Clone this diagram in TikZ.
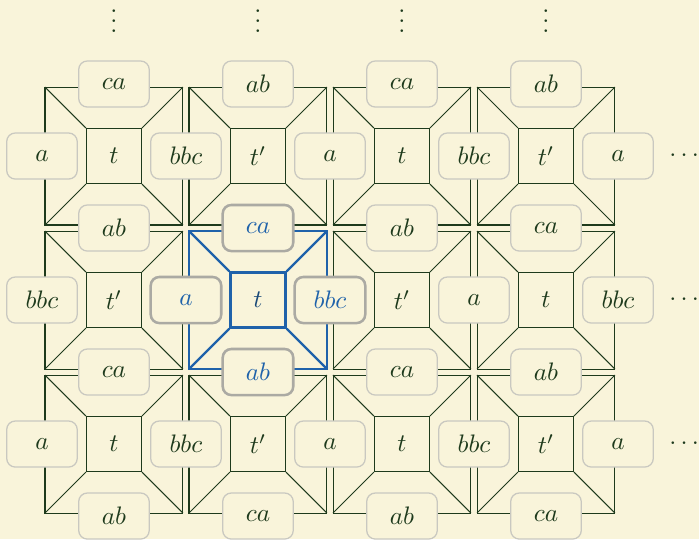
\documentclass[tikz,border=0pt]{standalone}
\usetikzlibrary{calc}
\definecolor{mCream}{HTML}{F9F4DA}
\definecolor{mGreen}{HTML}{1E3A1C}
\definecolor{mGray}{HTML}{C9C8C0}
\definecolor{mBlue}{HTML}{1F62AA}
\definecolor{mNavy}{HTML}{1B4A78}
\newcommand\stackdots{\vbox{\baselineskip4pt\lineskiplimit0pt\hbox{.}\hbox{.}\hbox{.}}}

\begin{document}
\begin{tikzpicture}[
  color=mGreen,
  core/.style={draw, minimum size=0.764cm, inner sep=0pt},
  hot/.style={draw=mBlue, line width=0.9pt, text=mNavy},
  tag/.style={draw=mGray, fill=mCream, rounded corners=0.12cm, line width=0.5pt,
              minimum width=0.98cm, minimum height=0.64cm, inner sep=1pt},
  pick/.style={tag, draw=mGray!85!black, line width=1pt, text=mBlue},
]
  \path[use as bounding box, fill=mCream] (-1.583,2.167) rectangle (8.125,-5.319);

  \foreach \i in {0,...,3}
    \foreach \j in {0,...,2} {
      \pgfmathtruncatemacro\pp{mod(\i+\j,2)}
      \ifnum\i\j=11 \def\look{hot}\else\def\look{}\fi
      \node[core,\look] (c\i\j) at (2*\i,-2*\j) {$\ifnum\pp=0 t\else t'\fi$};
      \coordinate (nw\i\j) at ($(c\i\j)+(-0.958,0.958)$);
      \coordinate (ne\i\j) at ($(c\i\j)+(0.958,0.958)$);
      \coordinate (se\i\j) at ($(c\i\j)+(0.958,-0.958)$);
      \coordinate (sw\i\j) at ($(c\i\j)+(-0.958,-0.958)$);
      \draw[\look] (nw\i\j) -- (ne\i\j) -- (se\i\j) -- (sw\i\j) -- cycle;
      \draw[\look] (nw\i\j) -- (c\i\j.north west);
      \draw[\look] (ne\i\j) -- (c\i\j.north east);
      \draw[\look] (se\i\j) -- (c\i\j.south east);
      \draw[\look] (sw\i\j) -- (c\i\j.south west);
    }

  \foreach \i in {0,...,4}
    \foreach \j in {0,...,2} {
      \pgfmathtruncatemacro\pp{mod(\i+\j,2)}
      \def\look{tag}
      \ifnum\j=1 \ifnum\i=1 \def\look{pick}\fi \ifnum\i=2 \def\look{pick}\fi \fi
      \node[\look] (v\i\j) at (2*\i-1,-2*\j) {$\ifnum\pp=0 a\else bbc\fi$};
    }

  \foreach \i in {0,...,3}
    \foreach \k in {0,...,3} {
      \pgfmathtruncatemacro\pp{mod(\i+\k,2)}
      \def\look{tag}
      \ifnum\i=1 \ifnum\k=1 \def\look{pick}\fi \ifnum\k=2 \def\look{pick}\fi \fi
      \node[\look] (h\i\k) at (2*\i,1-2*\k) {$\ifnum\pp=0 ca\else ab\fi$};
    }

  \foreach \i in {0,...,3}
    \node[anchor=base, inner sep=0pt] (up\i) at (2*\i,1.71) {\stackdots};
  \foreach \j in {0,...,2}
    \node (more\j) at (7.92,-2*\j) {$\cdots$};
\end{tikzpicture}
\end{document}
